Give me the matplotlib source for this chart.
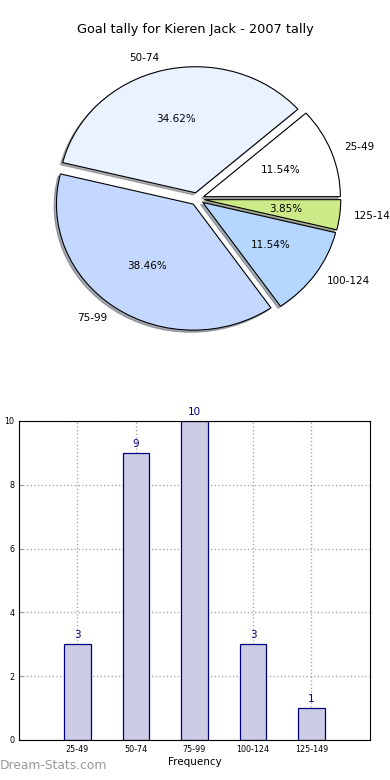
import numpy as np
import matplotlib
matplotlib.use("Agg")
import matplotlib.pyplot as plt

ranges = ["25-49", "50-74", "75-99", "100-124", "125-149"]
counts = [3, 9, 10, 3, 1]
pie_colors = ["#ffffff", "#eaf1ff", "#c4d8ff", "#b4d6ff", "#ccea88"]

plt.rcParams['font.family'] = ['DejaVu Sans']

fig = plt.figure(figsize=(3.9, 7.8), dpi=100)

# pie
ax1 = fig.add_axes([0.067, 0.543, 0.877, 0.404])
ax1.pie(counts, labels=ranges, colors=pie_colors, autopct="%.2f%%",
        explode=[0.05] * len(counts),
        shadow=dict(ox=-0.012, oy=-0.012, shade=0.6), startangle=0,
        wedgeprops=dict(edgecolor="black", linewidth=0.8),
        textprops=dict(fontsize=7.5))
ax1.set_aspect('auto')
ax1.set_xlim(-1.25, 1.25)
ax1.set_ylim(-1.25, 1.25)
fig.text(0.5, 0.962, "Goal tally for Kieren Jack - 2007 tally", ha="center",
         va="center", fontsize=9.3)

# bars
ax2 = fig.add_axes([0.0487, 0.0513, 0.9, 0.409])
x = np.arange(len(ranges))
ax2.bar(x, counts, width=0.45, color="#cccce4", edgecolor="#000080",
        linewidth=0.9, zorder=2)
for xi, c in zip(x, counts):
    ax2.text(xi, c + 0.12, str(c), ha="center", va="bottom",
             color="#000080", fontsize=7.5)
ax2.set_xlim(-1, 5)
ax2.set_ylim(0, 10)
ax2.set_xticks(x)
ax2.set_xticklabels(ranges)
ax2.set_yticks(range(0, 11, 2))
ax2.tick_params(labelsize=5.8, direction="in", length=3, color="#999999")
ax2.grid(True, linestyle=":", color="#aaaaaa", linewidth=1, zorder=0)
ax2.set_xlabel("Frequency", fontsize=7.5, labelpad=2)
ax2.set_ylabel("Number of Games", fontsize=7)
ax2.yaxis.set_label_coords(-0.055, 0.5)

fig.text(0.0, 0.01, "Dream-Stats.com", fontsize=8.8, color="#999999",
         ha="left", va="bottom")

fig.savefig("out.png", dpi=100)
